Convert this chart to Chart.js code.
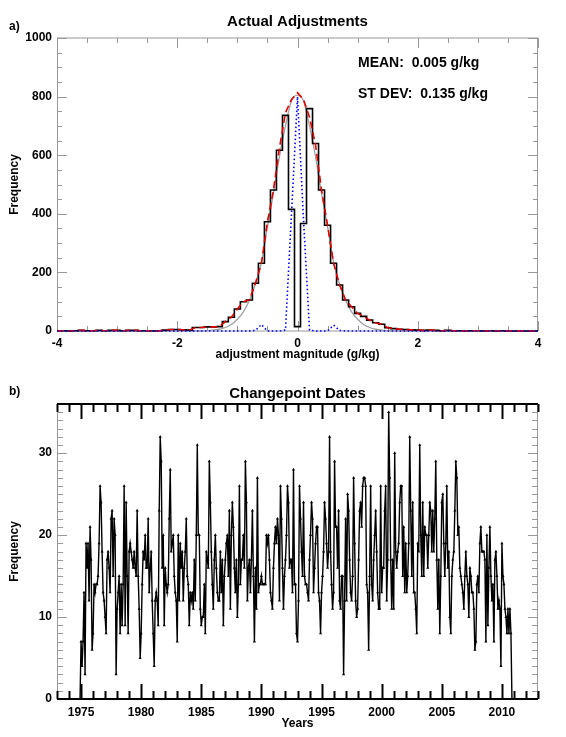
<!DOCTYPE html>
<html>
<head>
<meta charset="utf-8">
<title>Adjustments / Changepoints</title>
<script src="https://cdn.jsdelivr.net/npm/chart.js@4/dist/chart.umd.min.js"></script>
<style>
  body { margin: 0; background: #fff; }
  #wrap { position: relative; width: 566px; height: 737px; }
  #histChart { position: absolute; left: 0; top: 0; }
  #dateChart { position: absolute; left: 0; top: 365px; }
</style>
</head>
<body>
<div id="wrap">
  <canvas id="histChart" width="566" height="365"></canvas>
  <canvas id="dateChart" width="566" height="372"></canvas>
</div>
<script>
// ---- a) histogram of adjustments ----
const binCenters = [
  -4.0,-3.9,-3.8,-3.7,-3.6,-3.5,-3.4,-3.3,-3.2,-3.1,
  -3.0,-2.9,-2.8,-2.7,-2.6,-2.5,-2.4,-2.3,-2.2,-2.1,
  -2.0,-1.9,-1.8,-1.7,-1.6,-1.5,-1.4,-1.3,-1.2,-1.1,
  -1.0,-0.9,-0.8,-0.7,-0.6,-0.5,-0.4,-0.3,-0.2,-0.1,
  0.0,
  0.1,0.2,0.3,0.4,0.5,0.6,0.7,0.8,0.9,1.0,
  1.1,1.2,1.3,1.4,1.5,1.6,1.7,1.8,1.9,2.0,
  2.1,2.2,2.3,2.4,2.5,2.6,2.7,2.8,2.9,3.0,
  3.1,3.2,3.3,3.4,3.5,3.6,3.7,3.8,3.9,4.0
];
// black histogram
const histCounts = [
  0,1,0,1,2,1,1,2,1,2,
  2,1,2,2,1,1,0,1,3,5,
  5,4,3,12,12,14,14,15,32,47,
  75,100,106,163,231,373,481,617,736,415,
  15,
  367,759,640,481,361,231,157,106,83,60,
  50,37,28,23,11,8,6,5,4,3,
  2,3,2,1,2,1,1,0,1,1,
  0,1,0,1,0,0,1,0,0,0
];
// red dashed
const smoothCounts = [
  0,1,0,1,2,1,1,2,1,2,
  2,1,2,2,1,1,0,1,3,5,
  5,4,3,12,12,14,14,15,32,47,
  75,100,106,163,231,373,481,625,745,790,
  813,
  790,730,635,481,361,231,157,106,83,60,
  50,37,28,23,11,8,6,5,4,3,
  2,3,2,1,2,1,1,0,1,1,
  0,1,0,1,0,0,1,0,0,0
];
// grey fit
const gaussFit = [
  0,0,0,0,0,0,0,0,0,0,
  0,0,0,0,0,0,0,0,0,0,
  0,0,0,0,0,1,3,6,12,22,
  40,65,105,160,235,355,470,595,700,785,
  805,
  785,700,595,470,355,235,160,105,65,40,
  22,12,6,3,1,0,0,0,0,0,
  0,0,0,0,0,0,0,0,0,0,
  0,0,0,0,0,0,0,0,0,0
];
// blue dotted
const zeroAdj = [
  0,0,0,0,0,0,0,0,0,0,
  0,0,0,0,0,0,0,0,0,0,
  0,0,0,0,0,0,0,0,0,0,
  0,0,0,2,22,0,0,0,3,400,
  800,
  380,3,0,0,0,20,2,0,0,0,
  0,0,0,0,0,0,0,0,0,0,
  0,0,0,0,0,0,0,0,0,0,
  0,0,0,0,0,0,0,0,0,0
];
const histXTicks = [-4, -2, 0, 2, 4];
const histYTicks = [0, 200, 400, 600, 800, 1000];

// ---- b) changepoint dates, monthly from Jan 1973 ----
const dateStartYear = 1973;
const changeCounts = [
  0,0,0,0,0,0,0,0,0,0,0,0,              // 1973
  0,0,0,0,0,0,0,0,0,0,0,0,              // 1974
  7,4,7,13,3,19,16,19,12,21,17,6,       // 1975
  8,14,13,14,14,15,19,26,24,18,13,12,
  10,8,17,18,16,13,22,23,15,22,20,3,
  11,13,15,8,14,9,14,26,9,24,15,8,
  18,19,18,17,16,18,16,15,23,15,11,5,
  8,14,18,17,20,16,16,22,13,16,18,12,   // 1980
  8,4,12,13,12,9,23,32,29,16,20,9,
  16,14,13,14,22,28,18,19,20,15,13,12,
  7,20,12,19,16,18,12,16,18,22,15,14,
  9,13,12,13,11,17,12,20,31,20,20,11,
  9,10,10,14,8,18,17,16,29,24,18,14,    // 1985
  11,17,20,16,13,12,12,18,13,17,9,15,
  17,19,20,15,23,11,20,24,21,16,13,17,
  10,14,26,14,17,17,20,16,29,24,12,16,
  17,13,17,23,15,7,16,11,27,13,14,14,
  15,14,14,14,14,20,19,20,17,13,12,11,  // 1990
  16,19,21,19,22,20,12,26,22,16,11,15,
  17,20,26,24,16,17,17,13,28,14,14,8,
  7,12,26,22,18,15,24,15,14,14,13,12,
  17,20,24,22,13,16,19,21,21,13,12,8,
  13,15,18,24,22,19,16,18,32,18,14,11,  // 1995
  13,29,21,21,16,23,12,11,15,15,3,12,
  22,12,25,23,17,13,12,15,27,19,12,10,
  11,17,23,24,21,26,27,27,26,14,13,6,
  15,26,14,12,17,20,23,18,13,11,11,26,
  13,16,16,23,26,12,17,35,27,17,11,17,  // 2000
  11,30,18,16,18,19,24,26,26,15,21,13,
  19,13,15,19,32,23,15,24,13,13,11,8,
  19,18,31,20,15,24,15,21,20,20,16,20,
  24,23,18,23,18,22,29,17,11,17,8,15,
  24,25,19,15,19,26,16,18,10,8,15,17,   // 2005
  18,23,29,27,20,21,16,15,14,13,11,15,
  18,15,14,10,16,15,13,13,11,6,7,14,
  15,13,19,21,18,18,18,17,7,20,9,16,
  21,15,12,14,7,17,18,15,11,12,11,4,
  19,15,14,11,10,8,11,8,11,8,0,0,       // 2010
  0,0,0,0,0,0,0,0,0,0,0,0,              // 2011
  0,0,0,0,0,0,0,0,0,0,0,0,              // 2012
  0                                     // 2013
];
const yearTicks = [1975, 1980, 1985, 1990, 1995, 2000, 2005, 2010];
const freqTicks = [0, 10, 20, 30];

const FONT = '"Liberation Sans", Arial, Helvetica, sans-serif';

function pairUp(xs, ys) {
  return ys.map(function(v, i) { return { x: xs[i], y: v }; });
}

function isMajor(v, step) {
  return Math.abs(v / step - Math.round(v / step)) < 1e-6;
}

function seg(ctx, x1, y1, x2, y2) {
  ctx.beginPath();
  ctx.moveTo(x1, y1);
  ctx.lineTo(x2, y2);
  ctx.stroke();
}

// box + inward ticks, IDL style
const framePlugin = {
  id: 'frame',
  beforeDatasetsDraw(chart, args, o) {
    const ctx = chart.ctx, a = chart.chartArea;
    const xs = chart.scales.x, ys = chart.scales.y;
    ctx.save();
    ctx.strokeStyle = o.yColor;
    ctx.lineWidth = 1;
    for (let v = ys.min; v <= ys.max + 1e-9; v += o.yMinor) {
      const py = Math.round(ys.getPixelForValue(v)) + 0.5;
      const len = isMajor(v, o.yMajor) ? o.yLen[1] : o.yLen[0];
      seg(ctx, a.left, py, a.left + len, py);
      seg(ctx, a.right, py, a.right - len, py);
    }
    seg(ctx, a.left + 0.5, a.top, a.left + 0.5, a.bottom);
    seg(ctx, a.right - 0.5, a.top, a.right - 0.5, a.bottom);

    ctx.strokeStyle = o.xColor;
    ctx.lineWidth = o.xWidth;
    for (let v = xs.min; v <= xs.max + 1e-9; v += o.xMinor) {
      const px = Math.round(xs.getPixelForValue(v)) + 0.5;
      const len = isMajor(v, o.xMajor) ? o.xLen[1] : o.xLen[0];
      seg(ctx, px, a.bottom, px, a.bottom - len);
      seg(ctx, px, a.top, px, a.top + len);
    }
    seg(ctx, a.left, a.top, a.right, a.top);
    seg(ctx, a.left, a.bottom, a.right, a.bottom);
    ctx.restore();
  }
};

// titles, panel tags, notes
const textPlugin = {
  id: 'texts',
  afterDraw(chart, args, o) {
    const ctx = chart.ctx, a = chart.chartArea;
    ctx.save();
    ctx.fillStyle = '#000';
    ctx.textBaseline = 'middle';
    ctx.textAlign = 'center';
    ctx.font = 'bold 15px ' + FONT;
    ctx.fillText(o.title, (a.left + a.right) / 2, o.titleY);
    ctx.textAlign = 'left';
    ctx.font = 'bold 12px ' + FONT;
    ctx.fillText(o.tag, 9, o.tagY);
    ctx.font = 'bold 14px ' + FONT;
    (o.notes || []).forEach(function(n) {
      ctx.fillText(n.text, n.x, n.y);
    });
    ctx.restore();
  }
};

function tickFont() { return { family: FONT, size: 12, weight: 'bold' }; }
function plainNum(v) { return String(v); }

function DrawHist() {
  const ctx = document.getElementById('histChart');
  new Chart(ctx, {
    type: 'line',
    data: {
      datasets: [
        { data: pairUp(binCenters, zeroAdj), borderColor: '#0000ff', borderWidth: 1.6,
          borderDash: [1.5, 2.5], pointRadius: 0, tension: 0 },
        { data: pairUp(binCenters, smoothCounts), borderColor: '#e00000', borderWidth: 1.6,
          borderDash: [7, 4], pointRadius: 0, tension: 0 },
        { data: pairUp(binCenters, histCounts), borderColor: '#000', borderWidth: 1.6,
          stepped: 'middle', pointRadius: 0 },
        { data: pairUp(binCenters, gaussFit), borderColor: '#a0a0a0', borderWidth: 1.3,
          pointRadius: 0, cubicInterpolationMode: 'monotone' }
      ]
    },
    options: {
      responsive: false,
      animation: false,
      devicePixelRatio: 1,
      clip: false,
      layout: { padding: { left: 0, right: 28, top: 38, bottom: 0 } },
      plugins: {
        legend: { display: false },
        tooltip: { enabled: false },
        frame: { xMinor: 0.5, xMajor: 2, yMinor: 50, yMajor: 200,
                 xColor: '#999', xWidth: 1, yColor: '#999', xLen: [5, 10], yLen: [5, 10] },
        texts: { title: 'Actual Adjustments', titleY: 22, tag: 'a)', tagY: 27,
                 notes: [ { text: 'MEAN:  0.005 g/kg', x: 358, y: 63 },
                          { text: 'ST DEV:  0.135 g/kg', x: 358, y: 94 } ] }
      },
      scales: {
        x: {
          type: 'linear', min: -4, max: 4,
          grid: { display: false, drawTicks: false }, border: { display: false },
          afterBuildTicks: function(s) { s.ticks = histXTicks.map(function(v) { return { value: v }; }); },
          afterFit: function(s) { s.height = 34; },
          ticks: { padding: 5, color: '#000', font: tickFont(), maxRotation: 0, autoSkip: false,
                   callback: plainNum },
          title: { display: true, text: 'adjustment magnitude (g/kg)', color: '#000',
                   font: tickFont(), padding: { top: 0, bottom: 3 } }
        },
        y: {
          min: 0, max: 1000,
          grid: { display: false, drawTicks: false }, border: { display: false },
          afterBuildTicks: function(s) { s.ticks = histYTicks.map(function(v) { return { value: v }; }); },
          afterFit: function(s) { s.width = 57; },
          ticks: { padding: 5, color: '#000', font: tickFont(), autoSkip: false, callback: plainNum },
          title: { display: true, text: 'Frequency', color: '#000', font: tickFont(),
                   padding: { top: 7, bottom: 0 } }
        }
      }
    },
    plugins: [framePlugin, textPlugin]
  });
}

function DrawDates() {
  const ctx = document.getElementById('dateChart');
  const months = changeCounts.map(function(v, i) { return dateStartYear + i / 12; });
  new Chart(ctx, {
    type: 'line',
    data: {
      datasets: [{
        data: pairUp(months, changeCounts),
        borderColor: '#000', borderWidth: 1.4, tension: 0,
        pointStyle: 'triangle', pointBackgroundColor: '#000', pointBorderColor: '#000',
        pointBorderWidth: 0,
        pointRadius: function(c) { return c.raw && c.raw.y > 0 ? 1.8 : 0; }
      }]
    },
    options: {
      responsive: false,
      animation: false,
      devicePixelRatio: 1,
      clip: false,
      layout: { padding: { left: 0, right: 28, top: 39, bottom: 0 } },
      plugins: {
        legend: { display: false },
        tooltip: { enabled: false },
        frame: { xMinor: 1, xMajor: 5, yMinor: 1, yMajor: 10,
                 xColor: '#000', xWidth: 2, yColor: '#999', xLen: [8, 15], yLen: [6, 10] },
        texts: { title: 'Changepoint Dates', titleY: 29, tag: 'b)', tagY: 27 }
      },
      scales: {
        x: {
          type: 'linear', min: 1973, max: 2013,
          grid: { display: false, drawTicks: false }, border: { display: false },
          afterBuildTicks: function(s) { s.ticks = yearTicks.map(function(v) { return { value: v }; }); },
          afterFit: function(s) { s.height = 38; },
          ticks: { padding: 6, color: '#000', font: tickFont(), maxRotation: 0, autoSkip: false,
                   callback: plainNum },
          title: { display: true, text: 'Years', color: '#000', font: tickFont(),
                   padding: { top: 0, bottom: 6 } }
        },
        y: {
          min: 0, max: 36,
          grid: { display: false, drawTicks: false }, border: { display: false },
          afterBuildTicks: function(s) { s.ticks = freqTicks.map(function(v) { return { value: v }; }); },
          afterFit: function(s) { s.width = 57; },
          ticks: { padding: 5, color: '#000', font: tickFont(), autoSkip: false, callback: plainNum },
          title: { display: true, text: 'Frequency', color: '#000', font: tickFont(),
                   padding: { top: 7, bottom: 0 } }
        }
      }
    },
    plugins: [framePlugin, textPlugin]
  });
}

DrawHist();
DrawDates();
</script>
</body>
</html>
